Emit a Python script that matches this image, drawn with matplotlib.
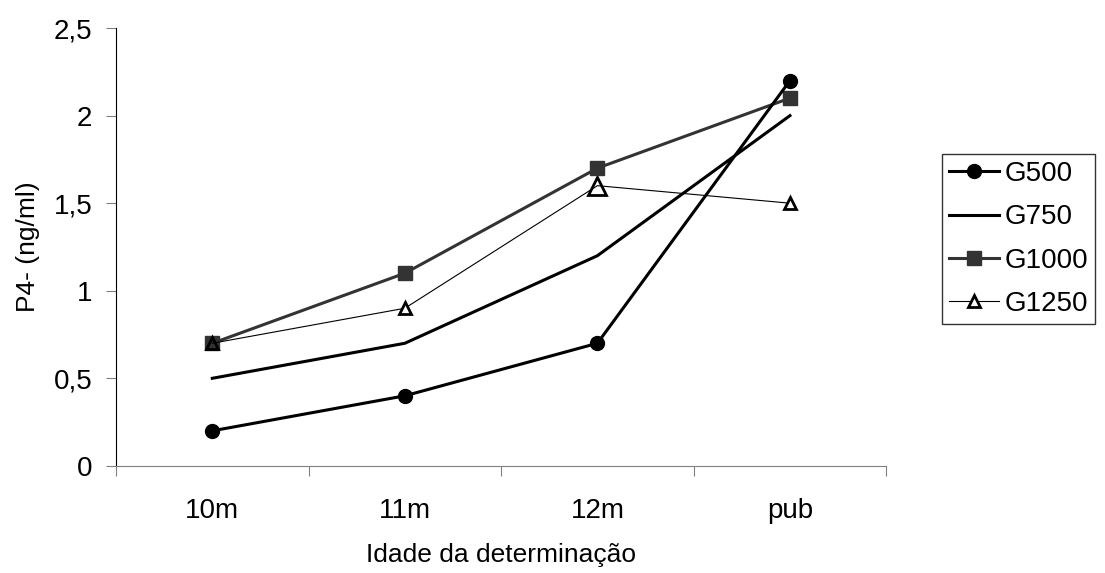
import numpy as np
import matplotlib.pyplot as plt

plt.rcParams['font.family'] = ['Liberation Sans', 'DejaVu Sans']

categories = ['10m', '11m', '12m', 'pub']
g500 = [0.2, 0.4, 0.7, 2.2]
g750 = [0.5, 0.7, 1.2, 2.0]
g1000 = [0.7, 1.1, 1.7, 2.1]
g1250 = [0.7, 0.9, 1.6, 1.5]

x = np.arange(len(categories))

fig = plt.figure(figsize=(11.05, 5.73), dpi=100)
ax = fig.add_axes([0.105, 0.187, 0.697, 0.764])

ax.plot(x, g500, color='black', lw=2.2, marker='o', ms=10, label='G500', zorder=5)
ax.plot(x, g750, color='black', lw=2.2, label='G750', zorder=4)
ax.plot(x, g1000, color='#333333', lw=2.2, marker='s', ms=10, label='G1000', zorder=3)
ax.plot(x, g1250, color='black', lw=0.8, marker='^', ms=9, mfc='white', mec='black',
        mew=2, markevery=[1, 3], label='G1250', zorder=6)
# first point sits on the G1000 square, the 12m point is drawn bigger
ax.plot(x[0], g1250[0], ls='none', marker='^', ms=9, mfc='none', mec='black', mew=2, zorder=6)
ax.plot(x[2], g1250[2], ls='none', marker='^', ms=13, mfc='white', mec='black', mew=2, zorder=2)

ax.set_xlim(-0.5, 3.5)
ax.set_ylim(0, 2.5)
ax.set_xticks(np.arange(-0.5, 4, 1))
ax.set_xticklabels([])
ax.set_xticks(x, minor=True)
ax.set_xticklabels(categories, minor=True, fontsize=20)
ax.tick_params(axis='x', which='minor', length=0, pad=23)
ax.tick_params(axis='x', which='major', length=7, color='#808080', direction='out')
ax.set_yticks([0, 0.5, 1, 1.5, 2, 2.5])
ax.set_yticklabels(['0', '0,5', '1', '1,5', '2', '2,5'], fontsize=20)
ax.tick_params(axis='y', length=7, color='#808080', direction='out', pad=10)

for s in ['top', 'right']:
    ax.spines[s].set_visible(False)
ax.spines['left'].set_color('black')
ax.spines['bottom'].set_color('#808080')

ax.set_xlabel('Idade da determinação', fontsize=19, labelpad=14)
ax.set_ylabel('P4- (ng/ml)', fontsize=19, labelpad=10)

leg = fig.legend(*ax.get_legend_handles_labels(), loc='center left',
                 bbox_to_anchor=(942 / 1105, 1 - 239 / 573), fontsize=20, frameon=True,
                 fancybox=False, edgecolor='black', handlelength=1.8, borderpad=0.25,
                 labelspacing=0.62, handletextpad=0.2, borderaxespad=0)
leg.get_frame().set_linewidth(1)

fig.savefig('out.png', dpi=100)
